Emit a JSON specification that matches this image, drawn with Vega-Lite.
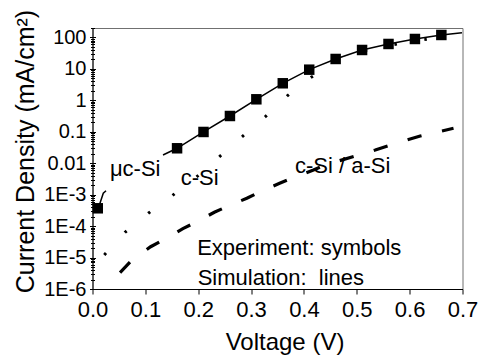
{
  "$schema": "https://vega.github.io/schema/vega-lite/v6.json",
  "width": 370,
  "height": 261,
  "autosize": "none",
  "padding": {"left": 92.5, "top": 28, "right": 20.5, "bottom": 66},
  "config": {
    "font": "Liberation Sans",
    "view": {"stroke": "#707070", "strokeWidth": 1},
    "axis": {"grid": false, "domainColor": "#000", "tickColor": "#000", "labelColor": "#000", "titleColor": "#000", "titleFontWeight": "normal", "domainWidth": 1, "tickWidth": 1}
  },
  "resolve": {"axis": {"y": "independent"}},
  "datasets": {
    "sim": [
      {"curve": "uc1", "V": 0.011, "J": 0.000369},
      {"curve": "uc1", "V": 0.0204, "J": 0.00111},
      {"curve": "uc1", "V": 0.0256, "J": 0.00134},
      {"curve": "uc2", "V": 0.1334, "J": 0.0183},
      {"curve": "uc2", "V": 0.16, "J": 0.0299},
      {"curve": "uc2", "V": 0.21, "J": 0.0987},
      {"curve": "uc2", "V": 0.26, "J": 0.318},
      {"curve": "uc2", "V": 0.31, "J": 1.08},
      {"curve": "uc2", "V": 0.36, "J": 3.49},
      {"curve": "uc2", "V": 0.41, "J": 9.45},
      {"curve": "uc2", "V": 0.46, "J": 20.7},
      {"curve": "uc2", "V": 0.51, "J": 40.0},
      {"curve": "uc2", "V": 0.56, "J": 62.1},
      {"curve": "uc2", "V": 0.61, "J": 89.5},
      {"curve": "uc2", "V": 0.66, "J": 120},
      {"curve": "uc2", "V": 0.699, "J": 142},
      {"curve": "c", "V": 0.0223, "J": 0.0000121},
      {"curve": "c", "V": 0.0615, "J": 0.0000635},
      {"curve": "c", "V": 0.1056, "J": 0.000256},
      {"curve": "c", "V": 0.1499, "J": 0.000908},
      {"curve": "c", "V": 0.194, "J": 0.00332},
      {"curve": "c", "V": 0.238, "J": 0.0150},
      {"curve": "c", "V": 0.281, "J": 0.0649},
      {"curve": "c", "V": 0.327, "J": 0.302},
      {"curve": "c", "V": 0.369, "J": 1.41},
      {"curve": "c", "V": 0.413, "J": 5.33},
      {"curve": "c", "V": 0.46, "J": 16.5},
      {"curve": "c", "V": 0.51, "J": 37},
      {"curve": "c", "V": 0.591, "J": 69},
      {"curve": "c", "V": 0.633, "J": 88},
      {"curve": "c", "V": 0.682, "J": 125},
      {"curve": "ca", "V": 0.0521, "J": 0.0000033},
      {"curve": "ca", "V": 0.0729, "J": 0.00000778},
      {"curve": "ca", "V": 0.110, "J": 0.0000221},
      {"curve": "ca", "V": 0.134, "J": 0.0000362},
      {"curve": "ca", "V": 0.171, "J": 0.0000828},
      {"curve": "ca", "V": 0.196, "J": 0.000135},
      {"curve": "ca", "V": 0.2305, "J": 0.000275},
      {"curve": "ca", "V": 0.257, "J": 0.000437},
      {"curve": "ca", "V": 0.292, "J": 0.000767},
      {"curve": "ca", "V": 0.317, "J": 0.00124},
      {"curve": "ca", "V": 0.354, "J": 0.0023},
      {"curve": "ca", "V": 0.374, "J": 0.00316},
      {"curve": "ca", "V": 0.418, "J": 0.00609},
      {"curve": "ca", "V": 0.440, "J": 0.00879},
      {"curve": "ca", "V": 0.535, "J": 0.0264},
      {"curve": "ca", "V": 0.560, "J": 0.0361},
      {"curve": "ca", "V": 0.595, "J": 0.0548},
      {"curve": "ca", "V": 0.620, "J": 0.0735},
      {"curve": "ca", "V": 0.656, "J": 0.1007},
      {"curve": "ca", "V": 0.683, "J": 0.129}
    ],
    "exp": [
      {"V": 0.01, "J": 0.000369},
      {"V": 0.16, "J": 0.0299},
      {"V": 0.21, "J": 0.0987},
      {"V": 0.26, "J": 0.318},
      {"V": 0.31, "J": 1.08},
      {"V": 0.36, "J": 3.49},
      {"V": 0.41, "J": 9.45},
      {"V": 0.46, "J": 20.7},
      {"V": 0.51, "J": 40.0},
      {"V": 0.56, "J": 62.1},
      {"V": 0.61, "J": 89.5},
      {"V": 0.66, "J": 120}
    ],
    "labels": [
      {"text": "μc-Si", "V": 0.033, "J": 0.0039},
      {"text": "c-Si", "V": 0.167, "J": 0.00203},
      {"text": "c-Si / a-Si", "V": 0.383, "J": 0.00479},
      {"text": "Experiment: symbols", "V": 0.198, "J": 0.0000121},
      {"text": "Simulation:\u00a0 lines", "V": 0.199, "J": 0.00000134}
    ]
  },
  "layer": [
    {
      "data": {"name": "sim"},
      "transform": [{"filter": "datum.curve === 'uc1' || datum.curve === 'uc2'"}],
      "mark": {"type": "line", "color": "#000", "strokeWidth": 1.5},
      "encoding": {
        "x": {
          "field": "V", "type": "quantitative",
          "scale": {"domain": [0, 0.7], "nice": false, "zero": false},
          "axis": {
            "title": "Voltage (V)",
            "values": [0, 0.05, 0.1, 0.15, 0.2, 0.25, 0.3, 0.35, 0.4, 0.45, 0.5, 0.55, 0.6, 0.65, 0.7],
            "labelExpr": "round(datum.value * 100) % 10 == 0 ? format(datum.value, '.1f') : ''",
            "tickSize": {"condition": {"test": "round(datum.value * 100) % 10 == 0", "value": 5}, "value": 3},
            "labelFontSize": 22,
            "labelPadding": 5,
            "labelOverlap": false,
            "labelFlush": false,
            "titleFontSize": 24,
            "titleX": 192,
            "titleY": 60,
            "titleBaseline": "alphabetic",
            "titleAnchor": null
          }
        },
        "y": {
          "field": "J", "type": "quantitative",
          "scale": {"type": "log", "domain": [0.000001, 200], "nice": false},
          "axis": {
            "orient": "left",
            "title": "Current Density (mA/cm²)",
            "values": [0.000001, 0.000002, 0.000003, 0.000004, 0.000005, 0.000006, 0.000007, 0.000008, 0.000009,
                       0.00001, 0.00002, 0.00003, 0.00004, 0.00005, 0.00006, 0.00007, 0.00008, 0.00009,
                       0.0001, 0.0002, 0.0003, 0.0004, 0.0005, 0.0006, 0.0007, 0.0008, 0.0009,
                       0.001, 0.002, 0.003, 0.004, 0.005, 0.006, 0.007, 0.008, 0.009,
                       0.01, 0.02, 0.03, 0.04, 0.05, 0.06, 0.07, 0.08, 0.09,
                       0.1, 0.2, 0.3, 0.4, 0.5, 0.6, 0.7, 0.8, 0.9,
                       1, 2, 3, 4, 5, 6, 7, 8, 9,
                       10, 20, 30, 40, 50, 60, 70, 80, 90, 100, 200],
            "labelExpr": "abs(log(datum.value)/LN10 - round(log(datum.value)/LN10)) < 0.000001 ? (datum.value >= 0.01 ? '' + datum.value : '1E' + round(log(datum.value)/LN10)) : ''",
            "tickSize": {"condition": {"test": "abs(log(datum.value)/LN10 - round(log(datum.value)/LN10)) < 0.000001", "value": 3}, "value": 2},
            "labelFontSize": 20,
            "labelPadding": 3.5,
            "labelOverlap": false,
            "labelFlush": false,
            "titleFontSize": 25,
            "titleAngle": -90,
            "titleX": -59,
            "titleY": 123,
            "titleAlign": "center",
            "titleBaseline": "alphabetic",
            "titleAnchor": null
          }
        },
        "detail": {"field": "curve"}
      }
    },
    {
      "data": {"name": "sim"},
      "transform": [{"filter": "datum.curve === 'c'"}],
      "mark": {"type": "line", "color": "#000", "strokeWidth": 3, "strokeDash": [2.5, 27.8], "strokeCap": "butt"},
      "encoding": {
        "x": {"field": "V", "type": "quantitative"},
        "y": {"field": "J", "type": "quantitative", "axis": null}
      }
    },
    {
      "data": {"name": "sim"},
      "transform": [{"filter": "datum.curve === 'ca'"}],
      "mark": {"type": "line", "color": "#000", "strokeWidth": 3.2, "strokeDash": [14.5, 21], "strokeCap": "butt"},
      "encoding": {
        "x": {"field": "V", "type": "quantitative"},
        "y": {"field": "J", "type": "quantitative", "axis": null}
      }
    },
    {
      "data": {"name": "exp"},
      "mark": {"type": "point", "shape": "square", "filled": true, "color": "#000", "opacity": 1, "size": 110},
      "encoding": {
        "x": {"field": "V", "type": "quantitative"},
        "y": {
          "field": "J", "type": "quantitative",
          "axis": {
            "orient": "left",
            "title": null,
            "labels": false,
            "domain": false,
            "values": [0.000001, 0.000002, 0.000003, 0.000004, 0.000005, 0.000006, 0.000007, 0.000008, 0.000009,
                       0.00001, 0.00002, 0.00003, 0.00004, 0.00005, 0.00006, 0.00007, 0.00008, 0.00009,
                       0.0001, 0.0002, 0.0003, 0.0004, 0.0005, 0.0006, 0.0007, 0.0008, 0.0009,
                       0.001, 0.002, 0.003, 0.004, 0.005, 0.006, 0.007, 0.008, 0.009,
                       0.01, 0.02, 0.03, 0.04, 0.05, 0.06, 0.07, 0.08, 0.09,
                       0.1, 0.2, 0.3, 0.4, 0.5, 0.6, 0.7, 0.8, 0.9,
                       1, 2, 3, 4, 5, 6, 7, 8, 9,
                       10, 20, 30, 40, 50, 60, 70, 80, 90, 100, 200],
            "tickSize": {"condition": {"test": "abs(log(datum.value)/LN10 - round(log(datum.value)/LN10)) < 0.000001", "value": -3}, "value": -2}
          }
        }
      }
    },
    {
      "data": {"name": "labels"},
      "mark": {"type": "text", "align": "left", "baseline": "alphabetic", "fontSize": 22, "color": "#000"},
      "encoding": {
        "x": {"field": "V", "type": "quantitative"},
        "y": {"field": "J", "type": "quantitative", "axis": null},
        "text": {"field": "text"}
      }
    }
  ]
}
